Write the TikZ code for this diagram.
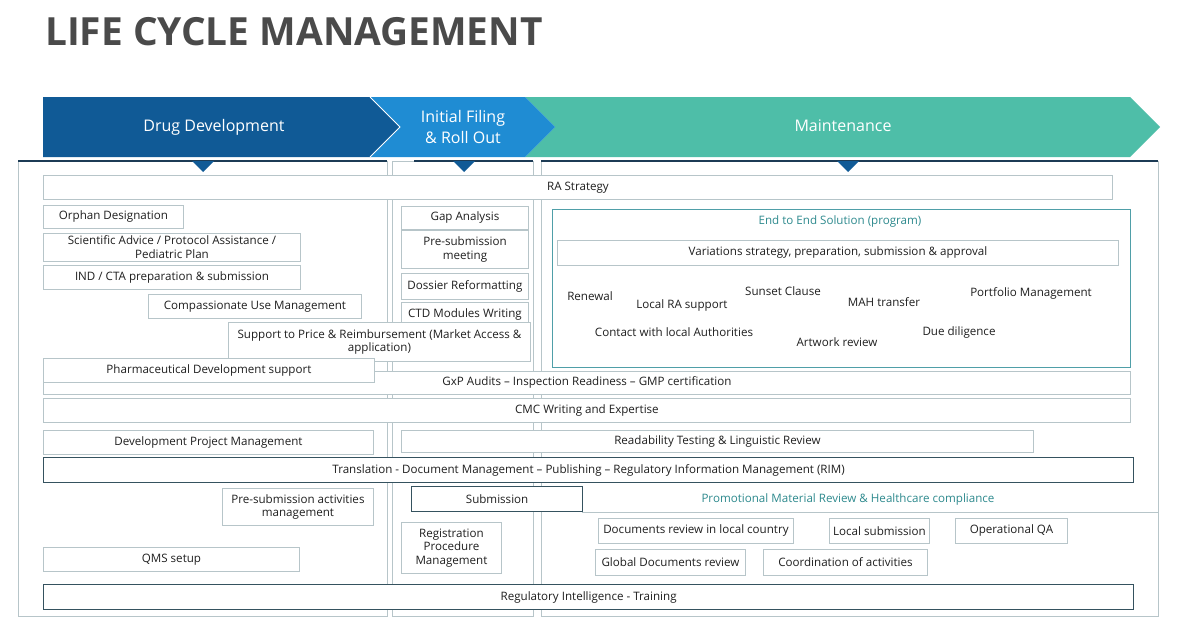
\documentclass[tikz,border=0pt]{standalone}
\usepackage{fontspec}
\setmainfont{Open Sans}
\usetikzlibrary{positioning}

\definecolor{ddblue}{HTML}{105A96}
\definecolor{ifblue}{HTML}{1F8CD3}
\definecolor{mteal}{HTML}{4EBEA8}
\definecolor{titlegray}{HTML}{4A4A4A}
\definecolor{boxline}{HTML}{B7C5C9}
\definecolor{darkline}{HTML}{35525F}
\definecolor{tealtext}{HTML}{2E8A8E}
\definecolor{tealline}{HTML}{4F9FA8}
\definecolor{navy}{HTML}{1C3B55}

\begin{document}
\begin{tikzpicture}[
    x=1pt, y=-1pt,
    every node/.style={font=\fontsize{11.6}{13.8}\selectfont, text=black!88},
    box/.style={rectangle, draw=boxline, fill=white, line width=0.9pt,
                inner sep=1pt, align=center, anchor=north west},
    darkbox/.style={box, draw=darkline, line width=1.2pt},
    tealbox/.style={box, draw=tealline, line width=1.2pt},
    panel/.style={draw=boxline, line width=0.9pt},
    hdr/.style={text=white, font=\fontsize{16}{20.5}\selectfont, align=center},
    freetxt/.style={inner sep=0pt},
]
    \useasboundingbox[fill=white] (0,0) rectangle (1178,626);

    % Title
    \node[anchor=base west, inner sep=0pt, text=titlegray,
          font=\fontsize{38.8}{42}\selectfont\bfseries] (title) at (45,46) {LIFE CYCLE MANAGEMENT};

    % Phase headers
    \fill[mteal] (525,97) -- (1130,97) -- (1160,127) -- (1130,157) -- (525,157) -- (555,127) -- cycle;
    \fill[ifblue] (370,97) -- (525,97) -- (555,127) -- (525,157) -- (370,157) -- (400,127) -- cycle;
    \fill[ddblue] (43,97) -- (370,97) -- (400,127) -- (370,157) -- (43,157) -- cycle;
    \draw[white, line width=0.8pt] (370,97) -- (400,127) -- (370,157);
    \node[hdr] (drugdev) at (214,127) {Drug Development};
    \node[hdr] (initfil) at (463,127) {Initial Filing\\\& Roll Out};
    \node[hdr] (maint)   at (843,126) {Maintenance};

    % Panels
    \draw[panel] (18,161) rectangle (387,616);
    \draw[panel] (392,161) rectangle (533,616);
    \draw[panel] (541,161) rectangle (1158,616);
    \draw[navy, line width=1.6pt] (18,161) -- (387,161);
    \draw[navy, line width=1.6pt] (414,161) -- (533,161);
    \draw[navy, line width=1.6pt] (541,161) -- (1158,161);
    \foreach \mx in {203, 464, 848} {
        \fill[ddblue] (\mx-11,161) -- (\mx+11,161) -- (\mx,172) -- cycle;
    }

    % Strategy row
    \node[box, minimum width=1069, minimum height=24] (rastrat) at (43,175) {RA Strategy};

    % Drug development column
    \node[box, minimum width=140, minimum height=23] (orphan) at (43,205) {Orphan Designation};
    \node[box, minimum width=257, minimum height=28] (sciadv) at (43,233)
        {Scientific Advice / Protocol Assistance /\\Pediatric Plan};
    \node[box, minimum width=257, minimum height=24] (indcta) at (43,265) {IND / CTA preparation \& submission};
    \node[box, minimum width=213, minimum height=24] (compuse) at (148,294) {Compassionate Use Management};

    % Initial filing column
    \node[box, minimum width=127, minimum height=23] (gap) at (401,206) {Gap Analysis};
    \node[box, minimum width=127, minimum height=38, below=0pt of gap.south west, anchor=north west] (presubmeet) {Pre-submission\\meeting};
    \node[box, minimum width=127, minimum height=26] (dossier) at (401,273) {Dossier Reformatting};
    \node[box, minimum width=127, minimum height=24, below=2pt of dossier.south west, anchor=north west] (ctd) {CTD Modules Writing};

    % Maintenance: end to end solution
    \node[tealbox, minimum width=578, minimum height=158] (e2e) at (552,209) {};
    \node[text=tealtext] (e2etitle) at (840,221) {End to End Solution  (program)};
    \node[box, minimum width=561, minimum height=25] (variat) at (557,240)
        {Variations strategy, preparation, submission \& approval};
    \node[freetxt] (renewal)  at (590,296)  {Renewal};
    \node[freetxt] (localra)  at (682,305)  {Local RA support};
    \node[freetxt] (sunset)   at (783,291)  {Sunset Clause};
    \node[freetxt] (mah)      at (884,302)  {MAH transfer};
    \node[freetxt] (portfol)  at (1031,293) {Portfolio Management};
    \node[freetxt] (contact)  at (674,332)  {Contact with local Authorities};
    \node[freetxt] (artwork)  at (837,342)  {Artwork review};
    \node[freetxt] (duedil)   at (959,332)  {Due diligence};

    % Cross-phase rows
    \node[box, minimum width=302, minimum height=39] (pricereimb) at (228,322)
        {Support to Price \& Reimbursement  (Market Access \&\\application)};
    \node[box, minimum width=1087, minimum height=23] (gxp) at (43,371)
        {GxP Audits -- Inspection Readiness -- GMP certification};
    \node[box, minimum width=331, minimum height=24] (pharmdev) at (43,358) {Pharmaceutical  Development  support};
    \node[box, minimum width=1087, minimum height=24] (cmc) at (43,398) {CMC Writing and Expertise};
    \node[box, minimum width=330, minimum height=24] (devpm) at (43,430) {Development  Project Management};
    \node[box, minimum width=632, minimum height=22] (readab) at (401,430) {Readability Testing \& Linguistic Review};
    \node[darkbox, minimum width=1090, minimum height=25] (transl) at (43,457)
        {Translation - Document Management -- Publishing -- Regulatory Information Management (RIM)};

    % Submission phase
    \node[box, minimum width=151, minimum height=37] (presubact) at (222,488) {Pre-submission activities\\management};
    \node[darkbox, minimum width=171, minimum height=25] (submis) at (411,486) {Submission};
    \node[box, minimum width=100, minimum height=51] (regproc) at (401,522) {Registration\\Procedure\\Management};
    \node[box, minimum width=256, minimum height=24] (qms) at (43,547) {QMS setup};

    % Promotional material
    \draw[panel] (582,512) -- (1158,512);
    \node[text=tealtext] (promo) at (848,499) {Promotional Material Review \& Healthcare  compliance};
    \node[box, minimum width=195, minimum height=25] (docrev)  at (598,518) {Documents  review in local country};
    \node[box, minimum width=100, minimum height=25] (locsub)  at (829,518) {Local submission};
    \node[box, minimum width=112, minimum height=25] (opqa)    at (955,518) {Operational QA};
    \node[box, minimum width=150, minimum height=26] (globrev) at (595,549) {Global Documents review};
    \node[box, minimum width=164, minimum height=26] (coord)   at (763,549) {Coordination of activities};

    % Bottom row
    \node[darkbox, minimum width=1090, minimum height=25] (regint) at (43,584) {Regulatory Intelligence  - Training};
\end{tikzpicture}
\end{document}
